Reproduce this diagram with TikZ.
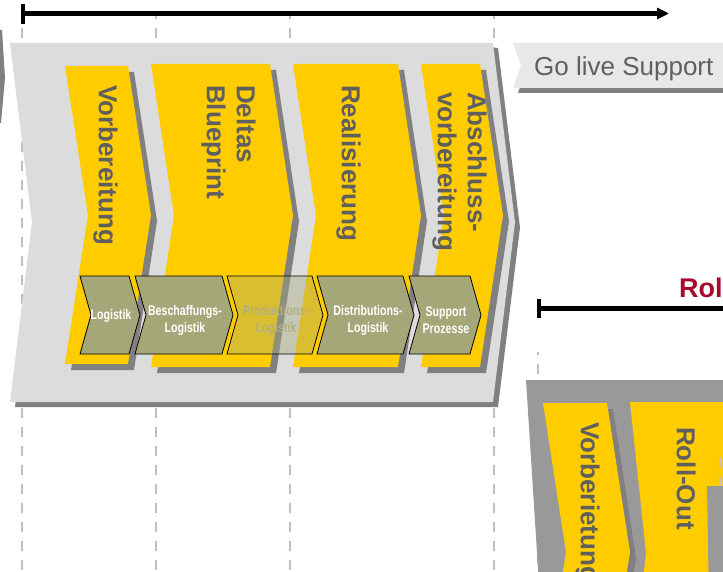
\documentclass[tikz,border=0pt]{standalone}
\usepackage{fontspec}
\setmainfont{Liberation Sans}
\newfontfamily\narrowfont[FakeStretch=0.76]{Liberation Sans}
\usetikzlibrary{arrows.meta,calc}
\definecolor{ylw}{RGB}{255,204,0}
\definecolor{lgray}{RGB}{220,220,220}
\definecolor{shd}{RGB}{128,128,128}
\definecolor{mgray}{RGB}{153,153,153}
\definecolor{glive}{RGB}{232,232,232}
\definecolor{dshc}{RGB}{192,192,192}
\definecolor{olv}{RGB}{165,167,120}
\definecolor{txtgray}{RGB}{95,95,95}
\definecolor{darkred}{RGB}{165,10,40}
\definecolor{prodtxt}{RGB}{178,176,128}
\newcommand\chevp[5]{({#1},{#3}) -- ({#2},{#3}) -- ({#2+#5},{(#3+#4)/2}) -- ({#2},{#4}) -- ({#1},{#4}) -- ({#1+#5},{(#3+#4)/2}) -- cycle}
\begin{document}
\begin{tikzpicture}[x=1pt,y=-1pt,
  dsh/.style={draw=dshc,line width=2pt,dash pattern=on 10pt off 9pt,dash phase=7pt},
  btxt/.style={rotate=-90,anchor=north west,inner sep=0pt,text=txtgray,
    font=\fontsize{26}{30}\selectfont\bfseries,align=left},
  ctxt/.style={text=white,inner sep=0pt,align=center,
    font=\narrowfont\fontsize{14}{17}\selectfont\bfseries},
  chevbox/.style={fill=olv,draw=black,line width=0.8pt},
  thickline/.style={line width=4.5pt,draw=black}]
\useasboundingbox (0,0) rectangle (723,572);
\clip (0,0) rectangle (723,572);
% dashed guide lines
\foreach \xx in {22,156,290,494} \draw[dsh] (\xx,16) -- (\xx,572);
\draw[dsh] (538,352) -- (538,572);
% sliver of previous chevron
\fill[shd] (0,30) -- (2,30) -- (5,78) -- (1,123) -- (0,123) -- cycle;
% big light gray chevron
\fill[shd,shift={(5,5)}] \chevp{10}{493}{43}{402}{22};
\fill[lgray] \chevp{10}{493}{43}{402}{22};
% yellow phase boxes
\foreach \a/\b/\t/\bb in {65/128/66/364,151/270/64/367,293/398/64/367,421/480/64/367}{
  \fill[shd,shift={(6,6)}] \chevp{\a}{\b}{\t}{\bb}{23};
  \fill[ylw] \chevp{\a}{\b}{\t}{\bb}{23};
}
\node[btxt] (p1) at (118,85) {Vorbereitung};
\node[btxt] (p2) at (256,85) {Deltas\\Blueprint};
\node[btxt] (p3) at (361,85) {Realisierung};
\node[btxt] (p4) at (487,92) {Abschluss-\\vorbereitung};
% olive process chevrons
\foreach \a/\b in {80/129,135/222,317/403,409/470}
  \path[chevbox] \chevp{\a}{\b}{276}{354}{11};
\path[fill=olv,fill opacity=0.4,draw=black,line width=0.8pt] \chevp{227}{312}{276}{354}{11};
\node[ctxt] (c1) at (111,316) {Logistik};
\node[ctxt] (c2) at (185,320) {Beschaffungs-\\Logistik};
\node[ctxt,text=prodtxt] (c3) at (276,320) {Produktions-\\Logistik};
\node[ctxt] (c4) at (368,320) {Distributions-\\Logistik};
\node[ctxt] (c5) at (446,320) {Support\\Prozesse};
% go live support
\fill[shd] (518,48) -- (740,48) -- (740,93) -- (518,93) -- (526,70.5) -- cycle;
\fill[glive] (513,43) -- (740,43) -- (740,88) -- (513,88) -- (521,65.5) -- cycle;
\node[anchor=base west,inner sep=0pt,text=txtgray,font=\fontsize{26}{30}\selectfont] (gl) at (534,76) {Go live Support};
% top timeline
\coordinate (a0) at (23,13.5);
\coordinate (a1) at (669,13.5);
\coordinate (a0t) at (23,4);
\coordinate (a0b) at (23,24);
\draw[thickline,-{Triangle[length=12pt,width=11pt]}] (a0) -- (a1);
\draw[thickline] (a0t) -- (a0b);
% roll-out timeline
\coordinate (r0) at (539,308.5);
\coordinate (r1) at (730,308.5);
\coordinate (r0t) at (539,299);
\coordinate (r0b) at (539,318);
\draw[thickline] (r0) -- (r1);
\draw[thickline] (r0t) -- (r0b);
\node[anchor=base west,inner sep=0pt,text=darkred,font=\fontsize{27}{30}\selectfont\bfseries] (ro) at (679,297) {Roll};
% second (roll-out) chevron
\fill[mgray] (526,380) -- (740,380) -- (740,600) -- (540,600) -- cycle;
\fill[shd,shift={(6,6)}] \chevp{543}{607}{403}{701}{23};
\fill[ylw] \chevp{543}{607}{403}{701}{23};
\fill[ylw] \chevp{630}{800}{402}{704}{16};
\fill[mgray] (707,486) -- (740,486) -- (740,600) -- (709,600) -- cycle;
\draw[dsh,dash phase=0pt] (720,458) -- (720,486);
\node[btxt] (v2) at (600,422) {Vorberietung};
\node[btxt] (v3) at (696,427) {Roll-Out};
\end{tikzpicture}
\end{document}
